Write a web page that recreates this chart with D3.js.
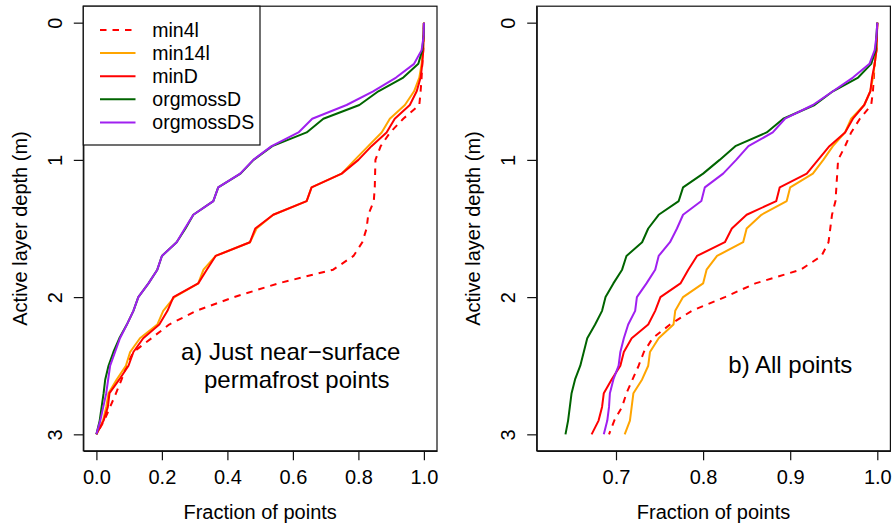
<!DOCTYPE html>
<html>
<head>
<meta charset="utf-8">
<script src="https://cdn.jsdelivr.net/npm/d3@7"></script>
<style>
  html, body { margin: 0; padding: 0; background: #fff; }
  svg { display: block; font-family: "Liberation Sans", Arial, Helvetica, sans-serif; }
</style>
</head>
<body>
<svg id="chart" width="895" height="525"></svg>
<script>
// ---------------- data ----------------
const depths = [0.0,0.1,0.2,0.3,0.4,0.5,0.6,0.7,0.8,0.9,1.0,1.1,1.2,1.3,1.4,1.5,1.6,1.7,1.8,1.9,2.0,2.1,2.2,2.3,2.4,2.5,2.6,2.7,2.8,2.9,3.0];

const seriesNames = ["min4l", "min14l", "minD", "orgmossD", "orgmossDS"];
const seriesColors = ["#FF0000", "#FFA500", "#FF0000", "#006400", "#A020F0"];
const seriesDashed = [true, false, false, false, false];

// panel a) just near-surface permafrost points
const a_min4l = [1.0,0.999,0.998,0.995,0.993,0.990,0.986,0.937,0.897,0.868,0.852,0.851,0.850,0.847,0.830,0.825,0.812,0.785,0.723,0.555,0.420,0.305,0.222,0.168,0.113,0.092,0.077,0.060,0.042,0.024,0.0];
const a_min14l = [1.0,0.999,0.997,0.993,0.986,0.970,0.942,0.896,0.871,0.830,0.789,0.749,0.657,0.642,0.540,0.489,0.469,0.364,0.327,0.311,0.238,0.204,0.186,0.133,0.103,0.090,0.062,0.037,0.030,0.020,0.0];
const a_minD = [1.0,0.999,0.998,0.995,0.990,0.978,0.957,0.911,0.886,0.840,0.800,0.749,0.657,0.642,0.540,0.485,0.469,0.364,0.337,0.311,0.235,0.217,0.192,0.143,0.113,0.098,0.070,0.040,0.035,0.022,0.0];
const a_orgmossD = [1.0,0.999,0.995,0.983,0.937,0.861,0.803,0.693,0.642,0.537,0.480,0.440,0.372,0.357,0.296,0.272,0.245,0.200,0.186,0.159,0.128,0.113,0.093,0.070,0.052,0.037,0.027,0.022,0.016,0.010,0.0];
const a_orgmossDS = [1.0,0.999,0.993,0.970,0.915,0.845,0.764,0.659,0.617,0.535,0.479,0.439,0.372,0.357,0.296,0.270,0.245,0.200,0.186,0.159,0.128,0.113,0.093,0.072,0.057,0.042,0.036,0.030,0.021,0.012,0.0];

// panel b) all points
const b_min4l = [1.0,0.9995,0.999,0.997,0.996,0.995,0.993,0.980,0.970,0.963,0.955,0.954,0.953,0.952,0.948,0.946,0.944,0.936,0.912,0.860,0.825,0.787,0.762,0.742,0.732,0.726,0.719,0.712,0.707,0.698,0.692];
const b_min14l = [1.0,0.9995,0.999,0.997,0.995,0.992,0.985,0.970,0.963,0.949,0.938,0.926,0.900,0.896,0.867,0.850,0.846,0.816,0.804,0.800,0.777,0.768,0.766,0.749,0.739,0.737,0.730,0.720,0.718,0.716,0.710];
const b_minD = [1.0,0.9995,0.999,0.997,0.994,0.992,0.985,0.972,0.963,0.945,0.932,0.919,0.888,0.884,0.850,0.833,0.825,0.793,0.783,0.774,0.751,0.745,0.737,0.718,0.709,0.705,0.695,0.686,0.684,0.680,0.672];
const b_orgmossD = [1.0,0.999,0.998,0.993,0.978,0.949,0.928,0.892,0.873,0.837,0.819,0.800,0.777,0.772,0.749,0.737,0.730,0.712,0.707,0.697,0.688,0.684,0.676,0.667,0.663,0.659,0.653,0.649,0.647,0.645,0.642];
const b_orgmossDS = [1.0,0.999,0.997,0.991,0.972,0.949,0.926,0.894,0.880,0.852,0.838,0.823,0.802,0.798,0.777,0.770,0.762,0.749,0.745,0.735,0.724,0.722,0.714,0.709,0.705,0.703,0.697,0.693,0.692,0.690,0.686];

const yTicks = [0, 1, 2, 3];
const xTicksA = [0.0, 0.2, 0.4, 0.6, 0.8, 1.0];
const xTicksB = [0.7, 0.8, 0.9, 1.0];
const xDomainA = [0, 1];
const xDomainB = [0.624, 1];
const yDomain = [0, 3];

const xLabel = "Fraction of points";
const yLabel = "Active layer depth (m)";
const annotA = ["a) Just near\u2212surface", "permafrost points"];
const annotB = "b) All points";

// ---------------- layout ----------------
const svg = d3.select("#chart");
const panelW = 353.7, panelTop = 6.2, panelBottom = 450.8;
const panels = [
  { left: 83.3, domain: xDomainA, ticks: xTicksA,
    series: [a_min4l, a_min14l, a_minD, a_orgmossD, a_orgmossDS] },
  { left: 536.7, domain: xDomainB, ticks: xTicksB,
    series: [b_min4l, b_min14l, b_minD, b_orgmossD, b_orgmossDS] }
];

const FS = 20;

panels.forEach((p, pi) => {
  const dx = (p.domain[1] - p.domain[0]) * 0.04;
  const x = d3.scaleLinear().domain([p.domain[0] - dx, p.domain[1] + dx]).range([p.left, p.left + panelW]);
  const dy = (yDomain[1] - yDomain[0]) * 0.04;
  const y = d3.scaleLinear().domain([yDomain[0] - dy, yDomain[1] + dy]).range([panelTop, panelBottom]);

  const g = svg.append("g");

  // curves
  const line = d3.line().x(d => x(d[0])).y(d => y(d[1]));
  p.series.forEach((vals, si) => {
    const pts = vals.map((v, i) => [v, depths[i]]);
    g.append("path")
      .attr("d", line(pts))
      .attr("fill", "none")
      .attr("stroke", seriesColors[si])
      .attr("stroke-width", 2)
      .attr("stroke-linejoin", "round")
      .attr("stroke-dasharray", seriesDashed[si] ? "6.5,6" : null);
  });

  // box
  g.append("rect")
    .attr("x", p.left).attr("y", panelTop)
    .attr("width", panelW).attr("height", panelBottom - panelTop)
    .attr("fill", "none").attr("stroke", "#111").attr("stroke-width", 1.2);

  // x axis
  const xa = g.append("g").attr("transform", `translate(0,${panelBottom})`)
    .call(d3.axisBottom(x).tickValues(p.ticks).tickFormat(d3.format(".1f")).tickSize(9.5).tickSizeOuter(0));
  xa.selectAll("path.domain").attr("stroke", "#111").attr("stroke-width", 1.2);
  xa.selectAll(".tick line").attr("stroke", "#111").attr("stroke-width", 1.2);
  xa.selectAll(".tick text")
    .attr("y", 33).attr("dy", null)
    .attr("font-size", FS).attr("fill", "#000")
    .attr("font-family", "Liberation Sans, Arial, sans-serif");

  // y axis
  const ya = g.append("g").attr("transform", `translate(${p.left},0)`)
    .call(d3.axisLeft(y).tickValues(yTicks).tickFormat(d3.format("d")).tickSize(9.5).tickSizeOuter(0));
  ya.selectAll("path.domain").attr("stroke", "#111").attr("stroke-width", 1.2);
  ya.selectAll(".tick line").attr("stroke", "#111").attr("stroke-width", 1.2);
  ya.selectAll(".tick text")
    .attr("x", null).attr("dy", null)
    .attr("transform", "translate(-21.6,0) rotate(-90)")
    .attr("text-anchor", "middle")
    .attr("font-size", FS).attr("fill", "#000")
    .attr("font-family", "Liberation Sans, Arial, sans-serif");

  // axis titles
  g.append("text")
    .attr("x", p.left + panelW / 2).attr("y", 519.3)
    .attr("text-anchor", "middle").attr("font-size", FS)
    .text(xLabel);
  g.append("text")
    .attr("transform", `translate(${p.left - 56.6},${(panelTop + panelBottom) / 2}) rotate(-90)`)
    .attr("text-anchor", "middle").attr("font-size", FS)
    .text(yLabel);
});

// annotations
svg.append("text").attr("x", 181).attr("y", 360).attr("font-size", 24).text(annotA[0]);
svg.append("text").attr("x", 204).attr("y", 388.3).attr("font-size", 24).text(annotA[1]);
svg.append("text").attr("x", 728.3).attr("y", 372.7).attr("font-size", 24).text(annotB);

// legend
const lg = svg.append("g");
lg.append("rect").attr("x", 83.3).attr("y", panelTop).attr("width", 176.7).attr("height", 145 - panelTop)
  .attr("fill", "#fff").attr("stroke", "#111").attr("stroke-width", 1.2);
const rowY = d3.scaleLinear().domain([0, 4]).range([30, 122.4]);
seriesNames.forEach((name, i) => {
  lg.append("line")
    .attr("x1", 100).attr("x2", 135.5)
    .attr("y1", rowY(i)).attr("y2", rowY(i))
    .attr("stroke", seriesColors[i]).attr("stroke-width", 2)
    .attr("stroke-dasharray", seriesDashed[i] ? "6.5,6" : null);
  lg.append("text")
    .attr("x", 152.3).attr("y", rowY(i) + 6.9)
    .attr("font-size", 19.5)
    .text(name);
});
</script>
</body>
</html>
